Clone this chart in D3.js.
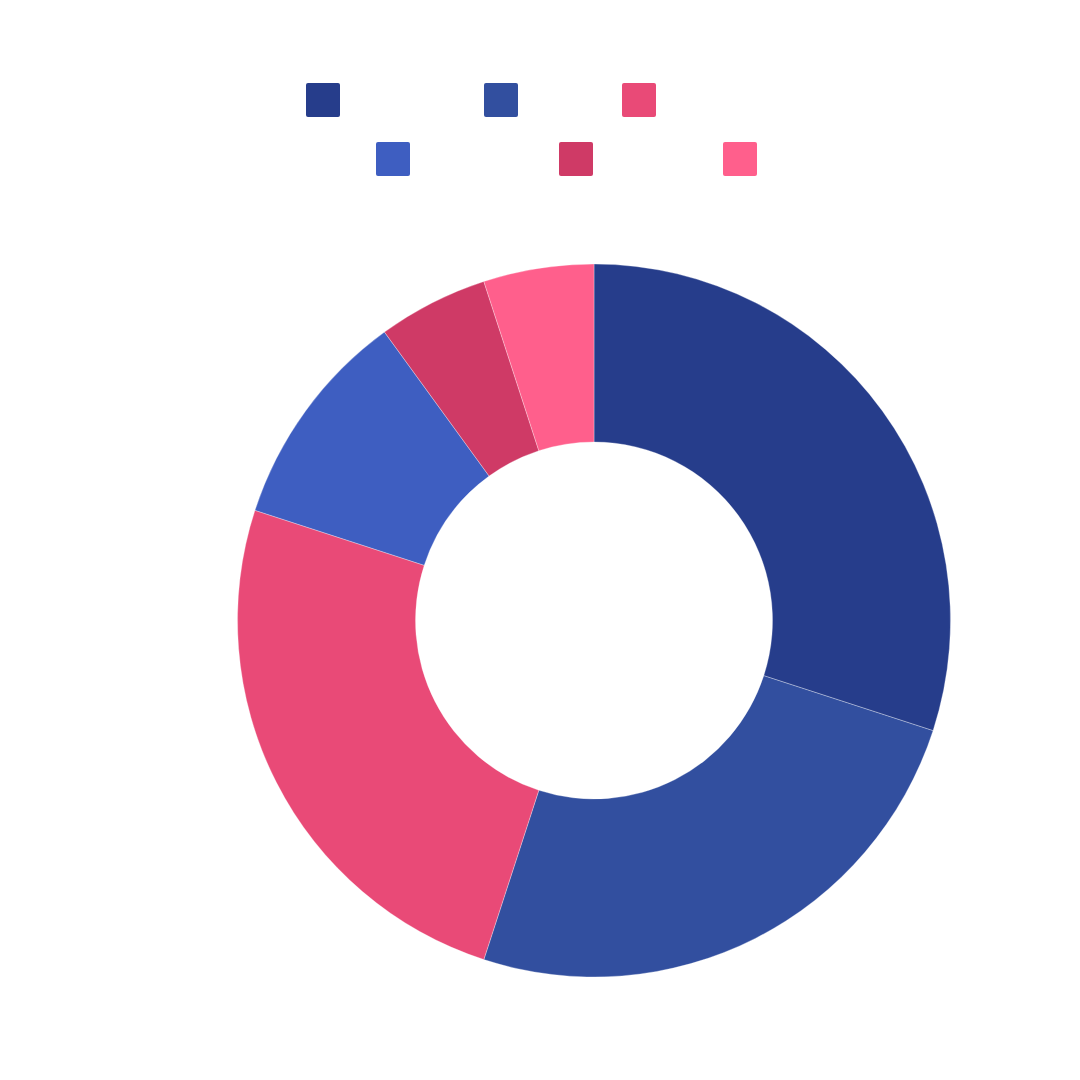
<!DOCTYPE html>
<html lang="en">
<head>
    <meta charset="UTF-8">
    <title>Donut Chart</title>
    <style>
        body {
            margin: 0;
            background-color: #FFFFFF;
            font-family: "Noto Sans", Arial, sans-serif;
        }
    </style>
</head>
<body>
    <div id="chart"></div>

    <script src="https://d3js.org/d3.v7.min.js"></script>
    <script>
        // Chart data
        const categories = ["A", "B", "C", "D", "E", "F"];
        const values = [30, 25, 25, 10, 5, 5];
        const colors = ["#263D8B", "#324F9F", "#E94A77", "#3E5EC1", "#CF3A66", "#FF5F8C"];

        // Legend layout: two rows, box left edges per row
        const legendRows = [[0, 1, 2], [3, 4, 5]];
        const legendX = [[306, 484, 622], [376, 559, 723]];
        const legendY = [83, 142];
        const boxSize = 34;

        const width = 1080, height = 1080;
        const cx = 594, cy = 620.5;
        const outerR = 356.5, innerR = 178.5;

        const svg = d3.select("#chart")
            .append("svg")
            .attr("width", width)
            .attr("height", height);

        const color = d3.scaleOrdinal().domain(categories).range(colors);

        const pie = d3.pie().sort(null).value(d => d.value);
        const arc = d3.arc().innerRadius(innerR).outerRadius(outerR);

        const data = categories.map((c, i) => ({ name: c, value: values[i] }));

        // Draw slices
        svg.append("g")
            .attr("transform", `translate(${cx}, ${cy})`)
            .selectAll("path")
            .data(pie(data))
            .join("path")
            .attr("d", arc)
            .attr("fill", d => color(d.data.name))
            .attr("stroke", "#FFFFFF")
            .attr("stroke-width", 0.5)
            .attr("stroke-opacity", 0.6);

        // Draw legend boxes
        const legend = svg.append("g").attr("class", "legend");
        legendRows.forEach((row, r) => {
            row.forEach((idx, j) => {
                legend.append("rect")
                    .attr("x", legendX[r][j])
                    .attr("y", legendY[r])
                    .attr("width", boxSize)
                    .attr("height", boxSize)
                    .attr("rx", 2)
                    .attr("fill", color(categories[idx]));
            });
        });
    </script>
</body>
</html>
